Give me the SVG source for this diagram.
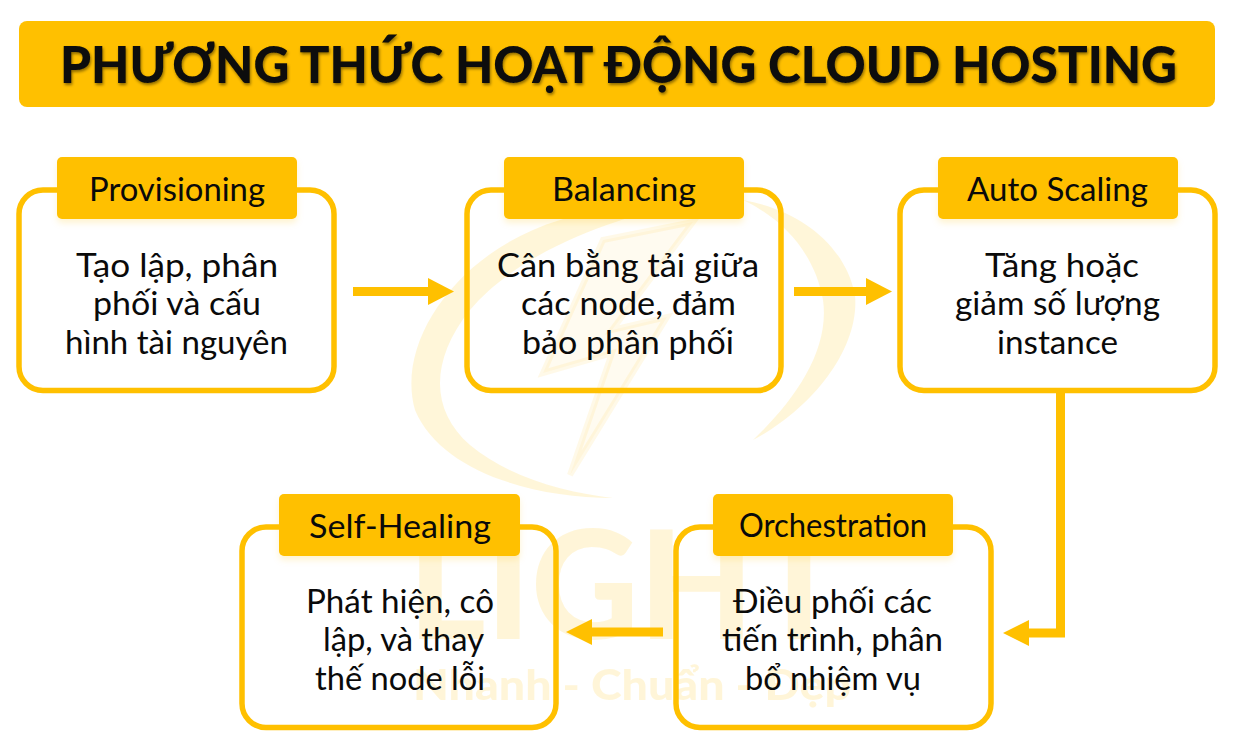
<svg xmlns="http://www.w3.org/2000/svg" width="1233" height="753" viewBox="0 0 1233 753">
<style>
text{font-family:"Lato","Noto Sans",sans-serif;text-anchor:middle;fill:#0a0a0a;font-size:32px}
.box{fill:none;stroke:#FFC000;stroke-width:5.5}
.tab{fill:#FFC000}
.wm{fill:#FFC000;opacity:.15}
.line{fill:none;stroke:#FFC000;stroke-width:9}
.head{fill:#FFC000}
</style>
<defs>
<filter id="sh" x="-5%" y="-20%" width="110%" height="140%"><feDropShadow dx="1" dy="2" stdDeviation="1.5" flood-color="#000" flood-opacity=".45"/></filter>
<filter id="ts" x="-5%" y="-10%" width="110%" height="130%"><feDropShadow dx="0" dy="4" stdDeviation="3" flood-color="#FFC000" flood-opacity=".18"/></filter>
</defs>
<rect width="1233" height="753" fill="#fff"/>
<g id="watermark">
<path class="wm" d="M613 498C530 498 440 470 415 410C395 340 460 250 560 220C610 205 660 200 700 200C620 215 520 250 470 310C430 360 430 410 470 445C510 478 565 492 613 498Z"/>
<path class="wm" d="M743 200C800 210 845 245 855 295C860 350 810 410 753 440C795 400 830 350 823 300C815 255 785 220 743 200Z"/>
<path d="M693 222L603 240L543 373L612 353L570 475L667 317L612 330Z" fill="#FFC000" fill-opacity=".06" stroke="#FFC000" stroke-opacity=".09" stroke-width="6"/>
<text class="wm" x="626" y="639" style="font-size:150px;font-weight:900" textLength="436" lengthAdjust="spacingAndGlyphs">LIGHT</text>
<text class="wm" x="632" y="700" style="font-size:42px;font-weight:900" textLength="438" lengthAdjust="spacingAndGlyphs">Nhanh - Chuẩn - Đẹp</text>
</g>
<g id="title">
<rect class="tab" x="19" y="21" width="1196" height="86" rx="8"/>
<text x="618.5" y="83" style="font-size:51px;font-weight:900" filter="url(#sh)" textLength="1117" lengthAdjust="spacingAndGlyphs">PHƯƠNG THỨC HOẠT ĐỘNG CLOUD HOSTING</text>
</g>
<g id="connectors">
<path class="line" d="M353 291.500H430"/><path class="head" d="M428 278L454 291.500L428 305Z"/>
<path class="line" d="M794 291.500H868"/><path class="head" d="M866 278L892 291.500L866 305Z"/>
<path class="line" d="M1060.500 392V633H1027"/><path class="head" d="M1029 620L1003 633L1029 646Z"/>
<path class="line" d="M663 632H590"/><path class="head" d="M592 619L566 632L592 645Z"/>
</g>
<g id="node-provisioning">
<rect class="box" x="19" y="190" width="315" height="200.500" rx="24"/>
<rect class="tab" x="57" y="157" width="240" height="62" rx="5" filter="url(#ts)"/>
<text x="177" y="201" textLength="176" lengthAdjust="spacingAndGlyphs">Provisioning</text>
<text x="177" y="277" textLength="202" lengthAdjust="spacingAndGlyphs">Tạo lập, phân</text>
<text x="177" y="315" textLength="168" lengthAdjust="spacingAndGlyphs">phối và cấu</text>
<text x="176.500" y="354" textLength="223" lengthAdjust="spacingAndGlyphs">hình tài nguyên</text>
</g>
<g id="node-balancing">
<rect class="box" x="467" y="190" width="314" height="200.500" rx="24"/>
<rect class="tab" x="504" y="157" width="240" height="62" rx="5" filter="url(#ts)"/>
<text x="624" y="201" textLength="144" lengthAdjust="spacingAndGlyphs">Balancing</text>
<text x="628" y="277" textLength="262" lengthAdjust="spacingAndGlyphs">Cân bằng tải giữa</text>
<text x="628.500" y="315" textLength="215" lengthAdjust="spacingAndGlyphs">các node, đảm</text>
<text x="628" y="354" textLength="212" lengthAdjust="spacingAndGlyphs">bảo phân phối</text>
</g>
<g id="node-auto-scaling">
<rect class="box" x="900" y="190" width="315" height="200.500" rx="24"/>
<rect class="tab" x="938" y="157" width="240" height="62" rx="5" filter="url(#ts)"/>
<text x="1057.500" y="201" textLength="181" lengthAdjust="spacingAndGlyphs">Auto Scaling</text>
<text x="1062" y="277" textLength="154" lengthAdjust="spacingAndGlyphs">Tăng hoặc</text>
<text x="1057.500" y="315" textLength="205" lengthAdjust="spacingAndGlyphs">giảm số lượng</text>
<text x="1057.500" y="354" textLength="121" lengthAdjust="spacingAndGlyphs">instance</text>
</g>
<g id="node-orchestration">
<rect class="box" x="676" y="527" width="315" height="200.500" rx="24"/>
<rect class="tab" x="713" y="494" width="240" height="62" rx="5" filter="url(#ts)"/>
<text x="833" y="537" textLength="188" lengthAdjust="spacingAndGlyphs">Orchestration</text>
<text x="832.500" y="613" textLength="199" lengthAdjust="spacingAndGlyphs">Điều phối các</text>
<text x="832.500" y="651" textLength="221" lengthAdjust="spacingAndGlyphs">tiến trình, phân</text>
<text x="833" y="690" textLength="176" lengthAdjust="spacingAndGlyphs">bổ nhiệm vụ</text>
</g>
<g id="node-self-healing">
<rect class="box" x="242" y="527" width="314" height="200.500" rx="24"/>
<rect class="tab" x="279" y="494" width="241" height="62" rx="5" filter="url(#ts)"/>
<text x="400" y="538" textLength="182" lengthAdjust="spacingAndGlyphs">Self-Healing</text>
<text x="400" y="613" textLength="188" lengthAdjust="spacingAndGlyphs">Phát hiện, cô</text>
<text x="403.500" y="651" textLength="161" lengthAdjust="spacingAndGlyphs">lập, và thay</text>
<text x="400" y="690" textLength="170" lengthAdjust="spacingAndGlyphs">thế node lỗi</text>
</g>
</svg>
